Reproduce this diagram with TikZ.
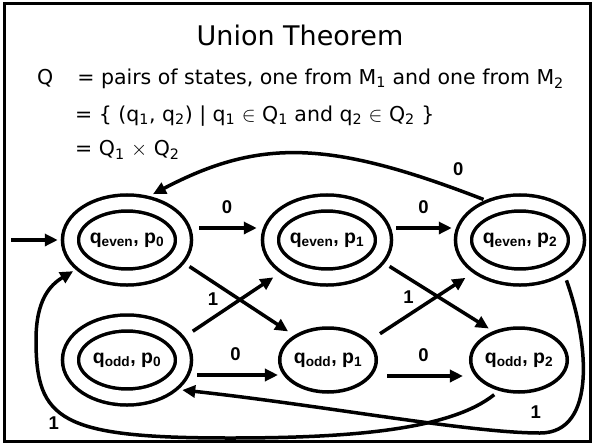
\documentclass[tikz,border=0pt]{standalone}
\usepackage{fontspec}
\setmainfont{DejaVu Sans}
\newfontfamily\arialfont{Liberation Sans}
\usetikzlibrary{arrows.meta,shapes.geometric}

\begin{document}
\begin{tikzpicture}[
  x=1pt,y=-1pt,>={Triangle[length=13pt,width=12pt]},
  flow/.style={->,line width=3.5pt},
  state/.style={draw,ellipse,line width=3.5pt,minimum width=94pt,
    minimum height=64pt,inner sep=0pt,
    font=\arialfont\bfseries\fontsize{19.5}{19.5}\selectfont},
  accept/.style={state,double,double distance=12.5pt,minimum width=113pt,
    minimum height=74pt,outer sep=9.75pt},
  edgelabel/.style={inner sep=1pt,
    font=\arialfont\bfseries\fontsize{18.5}{18.5}\selectfont},
  title/.style={font=\fontsize{27}{30}\selectfont},
  textline/.style={anchor=west,inner sep=0pt,font=\fontsize{20.5}{24}\selectfont}
]
  \useasboundingbox (0,0) rectangle (595,445);
  \draw[line width=3pt] (4.5,3.5) rectangle (590.5,441.5);

  \node[title] (title) at (300,35) {Union Theorem};
  \node[textline] (pairs) at (37,79)
    {Q\hspace{24pt}= pairs of states, one from M\textsubscript{1} and one from M\textsubscript{2}};
  \node[textline] (setdef) at (75,116)
    {= \{ (q\textsubscript{1}, q\textsubscript{2}) | q\textsubscript{1} $\in$ Q\textsubscript{1} and q\textsubscript{2} $\in$ Q\textsubscript{2} \}};
  \node[textline] (product) at (75,150)
    {= Q\textsubscript{1} $\times$ Q\textsubscript{2}};

  \node[accept] (e0) at (127,240) {q\textsubscript{even}, p\textsubscript{0}};
  \node[accept] (e1) at (327,240) {q\textsubscript{even}, p\textsubscript{1}};
  \node[accept] (e2) at (520,240) {q\textsubscript{even}, p\textsubscript{2}};
  \node[accept] (o0) at (127,360) {q\textsubscript{odd}, p\textsubscript{0}};
  \node[state] (o1) at (328,360) {q\textsubscript{odd}, p\textsubscript{1}};
  \node[state] (o2) at (519,360) {q\textsubscript{odd}, p\textsubscript{2}};
  \coordinate (start) at (11,240);

  \draw[flow,shorten >=3pt] (start) -- (e0.west);
  \draw[flow,shorten <=6pt,shorten >=4pt] ([yshift=12pt]e0.east) --
    ([yshift=12pt]e1.west) node[edgelabel,midway,above=12pt] {0};
  \draw[flow,shorten <=3pt,shorten >=2pt] ([yshift=12pt]e1.east) --
    ([yshift=12pt]e2.west) node[edgelabel,midway,above=12pt] {0};
  \draw[flow,shorten <=4pt] ([yshift=-15pt]o0.east) --
    ([yshift=-15pt]o1.west) node[edgelabel,midway,above=12pt] {0};
  \draw[flow,shorten <=9pt,shorten >=6pt] ([yshift=-16pt]o1.east) --
    ([yshift=-16pt]o2.west) node[edgelabel,midway,above=12pt] {0};

  \draw[flow,shorten <=6pt,shorten >=7pt] (e0.-22) -- (o1.144);
  \draw[flow,shorten <=10pt,shorten >=8pt] (o0.22) --
    (e1.215) node[edgelabel,pos=0.3,above=9pt] {1};
  \draw[flow,shorten <=6pt,shorten >=5pt] (e1.-22) -- (o2.132);
  \draw[flow,shorten <=13pt,shorten >=9pt] (o1.25) --
    (e2.215) node[edgelabel,pos=0.38,above=9pt] {1};

  \draw[flow,shorten <=2pt,shorten >=4pt] (e2.131)
    .. controls (330,140) and (260,138) .. (e0.63)
    node[edgelabel,pos=0.06,above=12pt] {0};

  \draw[flow,shorten <=6pt,shorten >=3pt] (o2.237)
    .. controls (450,430) and (350,438) .. (230,438)
    .. controls (60,438) and (36,420) .. (36,340)
    node[edgelabel,pos=0.55,below left=0pt] {1}
    .. controls (36,300) and (50,285) .. (e0.210);
  \draw[flow,shorten <=6pt,shorten >=4pt] (e2.-38)
    .. controls (588,340) and (598,433) .. (540,433)
    .. controls (470,433) and (320,405) .. (o0.-30)
    node[edgelabel,pos=0.02,above=12pt] {1};
\end{tikzpicture}
\end{document}
